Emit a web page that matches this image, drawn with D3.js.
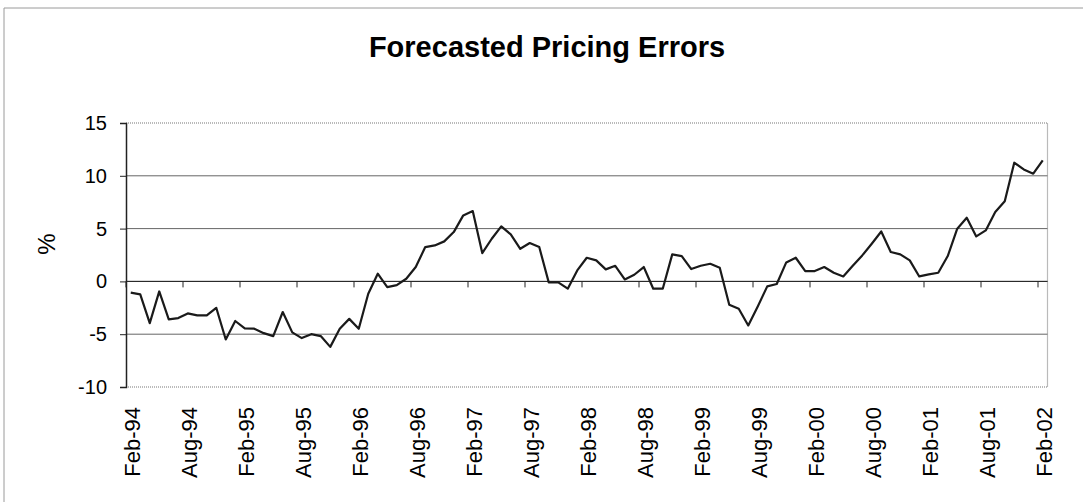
<!DOCTYPE html>
<html>
<head>
<meta charset="utf-8">
<script src="https://cdn.jsdelivr.net/npm/d3@7"></script>
<style>
  body { margin: 0; background: #fff; }
  text { font-family: "Liberation Sans", Arial, sans-serif; fill: #000; }
</style>
</head>
<body>
<svg></svg>
<script>
// DATA
let startMonth = new Date(1994, 1, 1)   // Feb-94
let errors = [
  -1.07, -1.23, -3.95, -0.95, -3.6, -3.47, -3.03, -3.22, -3.22, -2.5,
  -5.5, -3.75, -4.45, -4.48, -4.9, -5.18, -2.9, -4.83, -5.37, -5.0,
  -5.18, -6.2, -4.48, -3.55, -4.48, -1.17, 0.73, -0.54, -0.35, 0.25,
  1.36, 3.25, 3.41, 3.79, 4.67, 6.25, 6.66, 2.68, 4.04, 5.21,
  4.45, 3.09, 3.63, 3.25, -0.09, -0.09, -0.69, 1.04, 2.24, 1.99,
  1.14, 1.48, 0.19, 0.63, 1.36, -0.69, -0.69, 2.56, 2.4, 1.17,
  1.48, 1.67, 1.29, -2.21, -2.59, -4.17, -2.37, -0.47, -0.25, 1.8,
  2.24, 0.98, 0.98, 1.36, 0.82, 0.47, 1.48, 2.46, 3.57, 4.73,
  2.78, 2.56, 1.99, 0.47, 0.66, 0.82, 2.4, 4.99, 6.03, 4.26,
  4.83, 6.57, 7.58, 11.24, 10.6, 10.2, 11.46
]
let tickLabels = ["Feb-94", "Aug-94", "Feb-95", "Aug-95", "Feb-96", "Aug-96",
  "Feb-97", "Aug-97", "Feb-98", "Aug-98", "Feb-99", "Aug-99", "Feb-00",
  "Aug-00", "Feb-01", "Aug-01", "Feb-02"]
let yTicks = [-10, -5, 0, 5, 10, 15]

let fmt = d3.timeFormat("%b-%y")
let months = d3.timeMonth.range(startMonth, d3.timeMonth.offset(startMonth, errors.length))
let categories = months.map(d => fmt(d))

let svgWidth = 1083
let svgHeight = 502
let plotLeft = 126, plotRight = 1047.5, plotTop = 123, plotBottom = 387

let svg = d3.select("svg")
  .attr("width", svgWidth)
  .attr("height", svgHeight)

// chart frame (top / left edge)
svg.append("path")
  .attr("d", `M4,${svgHeight} L4,8 L${svgWidth},8`)
  .attr("fill", "none")
  .attr("stroke", "#9a9a9a")
  .attr("stroke-width", 1)

// SCALES
let xScale = d3.scalePoint()
  .domain(categories)
  .range([plotLeft, plotRight])
  .padding(0.5)

let yScale = d3.scaleLinear()
  .domain([-10, 15])
  .range([plotBottom, plotTop])

let step = xScale.step()

// gridlines
svg.append("g")
  .selectAll("line")
  .data(yTicks.filter(d => d > -10 && d < 15))
  .enter()
  .append("line")
  .attr("x1", plotLeft)
  .attr("x2", plotRight)
  .attr("y1", d => yScale(d))
  .attr("y2", d => yScale(d))
  .attr("stroke", "#666")
  .attr("stroke-width", 1)

// plot border top/right/bottom (dotted grey)
svg.append("path")
  .attr("d", `M${plotLeft},${plotTop} L${plotRight},${plotTop} L${plotRight},${plotBottom} L${plotLeft},${plotBottom}`)
  .attr("fill", "none")
  .attr("stroke", "#777")
  .attr("stroke-width", 1.2)
  .attr("stroke-dasharray", "1,1")

// Y AXIS
let yAxis = d3.axisLeft(yScale)
  .tickValues(yTicks)
  .tickFormat(d => String(d))
  .tickSize(6)
  .tickPadding(13)

let gy = svg.append("g")
  .attr("transform", `translate(${plotLeft}, 0)`)
  .call(yAxis)
gy.select(".domain").attr("stroke", "#222").attr("stroke-width", 1.5)
gy.selectAll(".tick line").attr("stroke", "#222")
gy.selectAll("text")
  .style("font-size", "20px")
  .attr("fill", "#000")

// X AXIS (at zero line, ticks between categories)
let boundaries = d3.range(0, errors.length + 1, 6)
svg.append("g")
  .selectAll("line")
  .data(boundaries)
  .enter()
  .append("line")
  .attr("x1", d => plotLeft + d * step)
  .attr("x2", d => plotLeft + d * step)
  .attr("y1", yScale(0))
  .attr("y2", yScale(0) + 6)
  .attr("stroke", "#222")

svg.append("line")
  .attr("x1", plotLeft)
  .attr("x2", plotRight)
  .attr("y1", yScale(0))
  .attr("y2", yScale(0))
  .attr("stroke", "#222")
  .attr("stroke-width", 1)

// labels low
svg.append("g")
  .selectAll("text")
  .data(tickLabels)
  .enter()
  .append("text")
  .text(d => d)
  .attr("transform", d => `translate(${xScale(d) + 2}, 407) rotate(-90)`)
  .attr("text-anchor", "end")
  .attr("dy", "0.35em")
  .style("font-size", "22px")

// THE LINE
let line = d3.line()
  .x((d, i) => xScale(categories[i]))
  .y(d => yScale(d))

svg.append("path")
  .datum(errors)
  .attr("d", line)
  .attr("fill", "none")
  .attr("stroke", "#1a1a1a")
  .attr("stroke-width", 2.2)
  .attr("stroke-linejoin", "round")

// TITLE
svg.append("text")
  .text("Forecasted Pricing Errors")
  .attr("x", 547)
  .attr("y", 57)
  .attr("text-anchor", "middle")
  .style("font-size", "29px")
  .style("font-weight", "bold")

// Y LABEL
svg.append("text")
  .text("%")
  .attr("transform", "translate(47, 244) rotate(-90)")
  .attr("text-anchor", "middle")
  .attr("dy", "0.35em")
  .style("font-size", "24px")
</script>
</body>
</html>
